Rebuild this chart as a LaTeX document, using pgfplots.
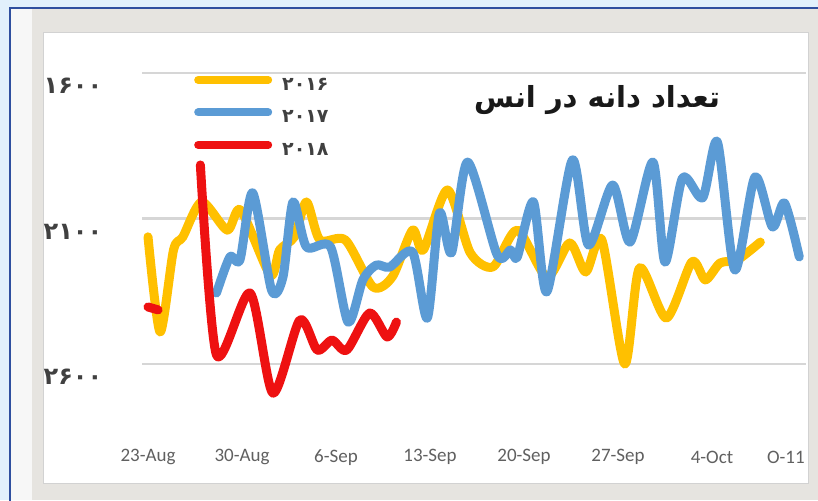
\documentclass[border=0pt]{standalone}
\usepackage{fontspec}
\usepackage{pgfplots}
\pgfplotsset{compat=1.18}
\TeXXeTstate=1
\setmainfont{Carlito}
\newfontfamily\arabicfont[Script=Arabic]{DejaVu Sans}
\definecolor{cyellow}{HTML}{FFC000}
\definecolor{cblue}{HTML}{5B9BD5}
\definecolor{cred}{HTML}{EE1111}
\definecolor{gridc}{HTML}{D6D6D6}
\definecolor{outerbg}{HTML}{E1F0FC}
\definecolor{frameblue}{HTML}{2F4F9F}
\definecolor{panelbg}{HTML}{E6E4E0}
\definecolor{ticktext}{HTML}{606060}
\definecolor{ylabtext}{HTML}{404040}

\pgfplotstableread{
d v
0 2163
0.9 2490
1.9 2208
2.6 2163
4.0 2043
5.9 2140
6.9 2071
9.1 2294
9.8 2208
10.9 2163
11.8 2043
12.8 2174
14.7 2174
16.75 2335
18.2 2300
19.7 2140
20.5 2208
22.3 2002
24.0 2218
25.7 2266
27.5 2140
29.7 2301
31.4 2184
32.6 2284
33.8 2174
35.5 2600
36.6 2270
38.6 2442
40.5 2249
41.5 2311
42.6 2253
43.9 2242
45.6 2181
}\yearA

\pgfplotstableread{
d v
5.1 2356
6.1 2232
6.85 2242
7.8 2012
9.2 2346
10.05 2301
10.8 2043
11.8 2198
13.6 2198
14.9 2456
16.0 2311
17.0 2260
18.0 2267
19.7 2215
20.8 2442
21.7 2081
22.6 2218
23.8 1906
26.0 2225
27.0 2208
27.5 2232
28.7 2043
29.7 2352
31.6 1899
32.8 2191
34.6 1985
35.9 2181
37.6 1906
38.5 2250
39.8 1961
41.3 2029
42.4 1837
43.7 2277
45.2 1957
46.5 2129
47.4 2047
48.5 2232
}\yearB

\pgfplotstableread{
d v
3.9 1916
5.1 2569
7.6 2356
9.3 2700
11.3 2449
12.6 2552
13.7 2518
14.8 2552
16.5 2425
17.8 2507
18.5 2456
}\yearC

\pgfplotstableread{
d v
0 2404
0.75 2414
}\yearCa

\begin{document}
\begin{tikzpicture}[x=1pt,y=1pt]
\useasboundingbox (0,0) rectangle (818,500);
\fill[outerbg] (0,0) rectangle (818,500);
\fill[panelbg] (10,0) rectangle (818,492);
\fill[white!94!gray] (11,0) rectangle (32,491);
\fill[white] (43,17) rectangle (808,467);
\draw[gray!35, line width=1pt] (43,17) rectangle (808,467);
\draw[frameblue, line width=2pt] (10,-5) -- (10,492) -- (823,492);

\begin{axis}[
  at={(142pt,77.8pt)}, anchor=south west, scale only axis,
  width=664pt, height=378.3pt,
  xmin=-0.447, xmax=49, ymin=1500, ymax=2800, y dir=reverse,
  axis line style={draw=none}, tick style={draw=none},
  ytick={1600,2100,2600},
  yticklabels={{۱۶۰۰},{۲۱۰۰},{۲۶۰۰}},
  ymajorgrids, grid style={gridc, line width=2.5pt},
  xtick={0,7,14,21,28,35,42,47.5},
  xticklabels={23-Aug,30-Aug,6-Sep,13-Sep,20-Sep,27-Sep,4-Oct,O-11},
  xticklabel style={font=\fontsize{19}{22}\selectfont, text=ticktext, anchor=center, yshift=-35pt},
  yticklabel style={font=\arabicfont\bfseries\fontsize{24}{28}\selectfont, text=ylabtext, anchor=center, xshift=-69pt, yshift=-13pt},
  every axis plot/.append style={line width=9pt, line cap=round, line join=round, smooth, tension=0.45, no markers},
  legend image code/.code={\draw[#1, line width=8pt, line cap=round] (0pt,5pt) -- (70pt,5pt);},
  legend cell align=left,
  legend style={at={(axis description cs:0.0783,0.935)}, anchor=north west,
    draw=none, fill=none, inner sep=0pt, row sep=0pt,
    font=\arabicfont\bfseries\fontsize{19}{22}\selectfont, text=ylabtext,
    nodes={inner sep=0pt, minimum height=32.5pt},
    /tikz/every odd column/.append style={column sep=10pt}},
  clip=false,
]
\addplot[cyellow] table[x=d, y=v] {\yearA};
\addlegendentry{۲۰۱۶}
\addplot[cblue] table[x=d, y=v] {\yearB};
\addlegendentry{۲۰۱۷}
\addplot[cred] table[x=d, y=v] {\yearC};
\addlegendentry{۲۰۱۸}
\addplot[cred, forget plot] table[x=d, y=v] {\yearCa};
\end{axis}

\node[font=\arabicfont\bfseries\fontsize{29}{34}\selectfont, text=black!90] at (597,400) {\beginR تعداد دانه در انس\endR};
\end{tikzpicture}
\end{document}
